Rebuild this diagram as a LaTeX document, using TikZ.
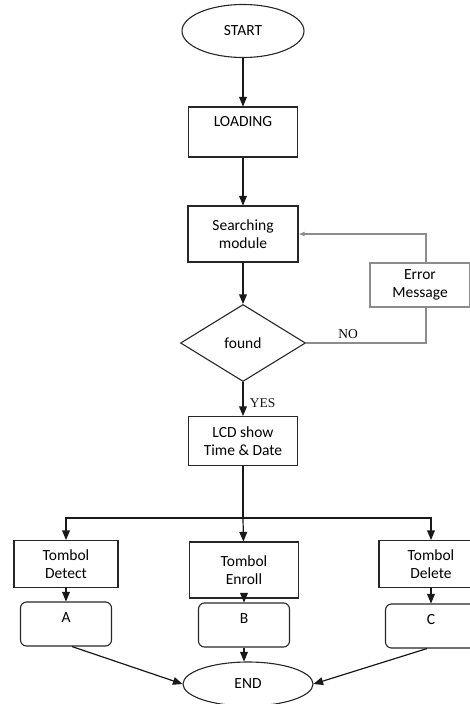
\documentclass[tikz,border=0pt]{standalone}
\usepackage{fontspec}
\setmainfont{Carlito}
\newfontfamily\labelfont{Liberation Serif}
\usetikzlibrary{positioning, calc}
\usetikzlibrary{shapes.geometric}
\usetikzlibrary{arrows}

\tikzset{
    box/.style={draw=black!85, line width=1.1pt, rectangle, align=center,
        inner sep=0pt, font=\fontsize{15.5}{18}\selectfont},
    terminal/.style={box, ellipse},
    decision/.style={box, diamond, aspect=1.6},
    result/.style={box, rounded corners=6pt, minimum width=91pt, minimum height=44pt,
        text height=20pt, text depth=24pt},
    answer/.style={font=\labelfont\fontsize{13.5}{16}\selectfont},
    link/.style={line width=1.2pt, black!90},
    feedback/.style={line width=1.1pt, black!45}
}

\begin{document}
\begin{tikzpicture}[x=1pt, y=-1pt, >=triangle 45]
    \useasboundingbox (0,0) rectangle (470,704);

    \node[terminal, minimum width=122pt, minimum height=53pt] (start) at (243,31) {START};
    \node[box, minimum width=109pt, minimum height=50pt, text height=19pt, text depth=31pt] (loading) at (243,132) {LOADING};
    \node[box, minimum width=110pt, minimum height=56pt] (search) at (243,234) {Searching\\module};
    \node[decision, minimum width=125pt, minimum height=77pt] (found) at (243,343) {found};
    \node[box, draw=black!45, minimum width=100pt, minimum height=44pt] (error) at (420,285) {Error\\Message};
    \node[box, minimum width=109pt, minimum height=49pt] (lcd) at (243,441) {LCD show\\Time \& Date};

    \node[box, minimum width=104pt, minimum height=47pt] (detect) at (66,564) {Tombol\\Detect};
    \node[box, minimum width=109pt, minimum height=56pt] (enroll) at (244,570) {Tombol\\Enroll};
    \node[box, minimum width=104pt, minimum height=47pt] (delete) at (431,564) {Tombol\\Delete};

    \node[result] (resA) at (66,624) {A};
    \node[result] (resB) at (244,625) {B};
    \node[result] (resC) at (431,626) {C};

    \node[terminal, minimum width=130pt, minimum height=44pt] (end) at (248,684) {END};

    \coordinate (fork) at (243,518);
    \coordinate (errin) at ([xshift=6pt]error.south);
    \coordinate (errout) at ([xshift=6pt]error.north);

    % main flow
    \draw[link, ->] (start) -- (loading);
    \draw[link, ->] (loading) -- (search);
    \draw[link, ->] (search) -- (found);
    \draw[link, ->] (found) -- node[answer, pos=0.62, right=3pt] {YES} (lcd);

    % error loop
    \draw[feedback] (found.east) -- node[answer, above, black, pos=0.35] {NO} (found.east -| errin) -- (errin);
    \draw[feedback, ->, >=latex] (errout) |- (search.east);

    % branches
    \draw[link] (lcd) -- (fork);
    \draw[link, ->] (fork) -| (detect);
    \draw[link, ->] (fork) -| (delete);
    \draw[link, ->] (fork) -- (enroll);

    \draw[link, ->] (detect) -- (resA);
    \draw[link, ->] (enroll) -- (resB);
    \draw[link, ->] (delete) -- (resC);

    \draw[link, ->] ([xshift=6pt]resA.south) -- (end.west);
    \draw[link, ->] (resB) -- (resB |- end.north);
    \draw[link, ->] ([xshift=-4pt]resC.south) -- (end.east);
\end{tikzpicture}
\end{document}
